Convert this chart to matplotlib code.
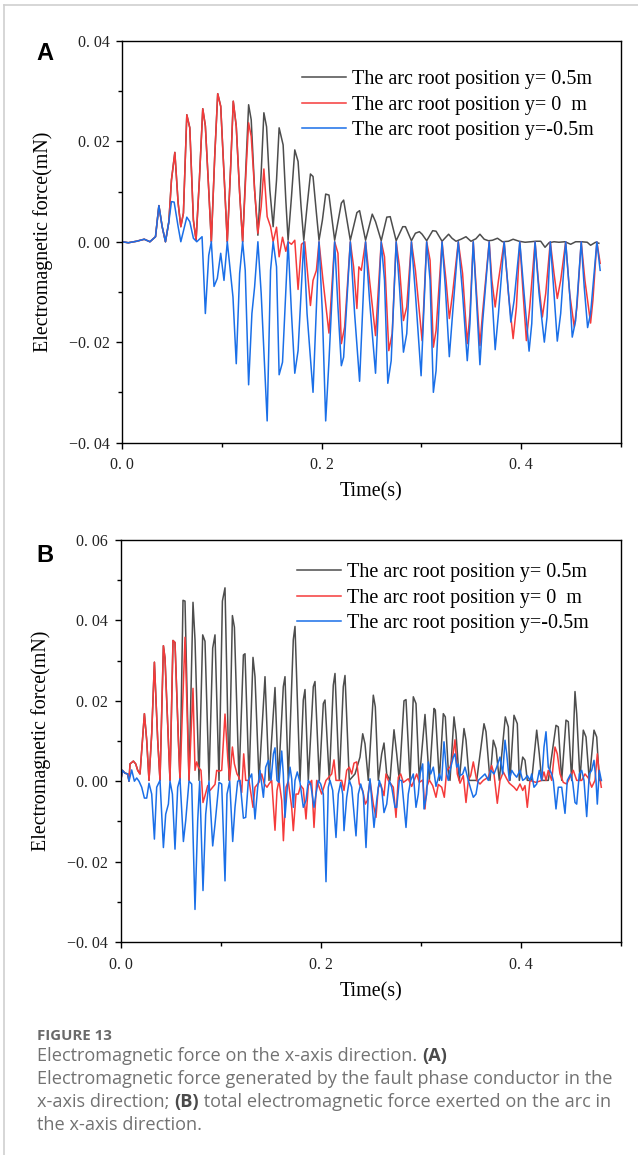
import matplotlib
matplotlib.use('Agg')
import matplotlib.pyplot as plt
from matplotlib.lines import Line2D
import numpy as np

W, H = 638, 1155

# ---------------- panel A : force from the fault phase conductor ----------------
# (time s, force mN)
a_common = [(0.0, 0.0), (0.006, -0.0002), (0.0143, 0.0001), (0.022, 0.0005), (0.0277, 0.0),
            (0.0333, 0.001), (0.0367, 0.0072), (0.04, 0.003), (0.0433, 0.0), (0.0467, 0.004)]

# red and black lie on top of each other up to ~0.12 s
a_red_black = [(0.0493, 0.0123), (0.0527, 0.0178), (0.056, 0.0077), (0.0587, 0.003), (0.0613, 0.0057),
               (0.0647, 0.0253), (0.0677, 0.0227), (0.0713, 0.0043), (0.074, 0.0003), (0.0773, 0.0123),
               (0.0807, 0.0265), (0.0833, 0.0231), (0.0867, 0.0103), (0.0893, 0.0), (0.0927, 0.017),
               (0.0957, 0.0295), (0.0987, 0.027), (0.102, 0.0137), (0.1053, 0.0), (0.1087, 0.015),
               (0.1113, 0.028), (0.1143, 0.023), (0.1177, 0.0097), (0.1207, 0.0)]

a_black = [(0.124, 0.015), (0.1267, 0.0273), (0.1293, 0.0243), (0.1327, 0.0103), (0.136, 0.0013),
           (0.1393, 0.0137), (0.142, 0.0257), (0.1447, 0.0229), (0.148, 0.0103), (0.1513, 0.003),
           (0.1547, 0.0123), (0.1573, 0.0227), (0.1613, 0.0193), (0.164, 0.0083), (0.1663, 0.0003),
           (0.1697, 0.009), (0.173, 0.0183), (0.1763, 0.016), (0.1793, 0.007), (0.182, 0.0003),
           (0.1853, 0.007), (0.1887, 0.0135), (0.1913, 0.013), (0.1947, 0.0057), (0.1973, 0.0003),
           (0.2007, 0.0043), (0.204, 0.0095), (0.2073, 0.0093), (0.213, 0.0003), (0.2197, 0.0077),
           (0.222, 0.0083), (0.2287, 0.0003), (0.2353, 0.0058), (0.238, 0.0062), (0.244, 0.0003),
           (0.2507, 0.0055), (0.254, 0.004), (0.2597, 0.0002), (0.2653, 0.0049), (0.2687, 0.005),
           (0.2747, 0.0002), (0.2813, 0.003), (0.284, 0.003), (0.29, 0.0002), (0.294, 0.0017),
           (0.298, 0.002), (0.3007, 0.0015), (0.3053, 0.0002), (0.3113, 0.0022), (0.3147, 0.0021),
           (0.3207, 0.0001), (0.3273, 0.0015), (0.3307, 0.0007), (0.3347, 0.0001), (0.3397, 0.0005),
           (0.3447, 0.001), (0.3497, 0.0001), (0.3547, 0.0006), (0.3587, 0.0015), (0.363, 0.0005),
           (0.3673, 0.0002), (0.3713, 0.0003), (0.3763, 0.0007), (0.3813, 0.0), (0.3873, 0.0001),
           (0.392, 0.0005), (0.398, 0.0001), (0.404, -0.0001), (0.4097, 0.0), (0.4147, 0.0001),
           (0.4197, 0.0001), (0.424, -0.0011), (0.428, -0.0002), (0.433, 0.0), (0.438, -0.0001),
           (0.444, 0.0), (0.4497, -0.0005), (0.4547, 0.0), (0.4607, 0.0), (0.4663, -0.0001),
           (0.4697, -0.0007), (0.4747, -0.0001), (0.478, -0.0003)]

a_red = [(0.124, 0.0137), (0.1267, 0.0237), (0.1293, 0.021), (0.1327, 0.0103), (0.136, 0.0017),
         (0.1393, 0.007), (0.142, 0.0145), (0.1453, 0.005), (0.1487, 0.003), (0.1513, 0.0),
         (0.1547, 0.0029), (0.1573, -0.003), (0.1607, 0.0009), (0.164, -0.0019), (0.1663, 0.0),
         (0.1697, -0.0005), (0.173, 0.0003), (0.1763, -0.0095), (0.1797, -0.0005), (0.183, 0.0),
         (0.1887, -0.0127), (0.1913, -0.0077), (0.1947, -0.0057), (0.1973, 0.0), (0.2013, -0.0077),
         (0.2073, -0.0182), (0.213, 0.0), (0.2163, -0.0023), (0.2197, -0.0203), (0.223, -0.017),
         (0.2287, 0.0), (0.232, -0.005), (0.2353, -0.0133), (0.2373, -0.005), (0.2397, -0.0057),
         (0.244, 0.0), (0.248, -0.0077), (0.254, -0.0187), (0.2597, 0.0), (0.263, -0.003),
         (0.2673, -0.0217), (0.2707, -0.0183), (0.2747, 0.0), (0.278, -0.005), (0.282, -0.0157),
         (0.2853, -0.013), (0.29, 0.0), (0.294, -0.0057), (0.3007, -0.0197), (0.3053, 0.0),
         (0.3087, -0.0037), (0.312, -0.021), (0.3147, -0.0177), (0.3207, 0.0), (0.3247, -0.0077),
         (0.328, -0.0153), (0.3313, -0.0103), (0.337, 0.0), (0.3413, -0.0063), (0.346, -0.0203),
         (0.3487, -0.0143), (0.352, 0.0), (0.3553, -0.0103), (0.3587, -0.0207), (0.3613, -0.0143),
         (0.368, 0.0), (0.3707, -0.0077), (0.374, -0.013), (0.3773, -0.0077), (0.383, 0.0),
         (0.3873, -0.0103), (0.392, -0.0193), (0.3953, -0.013), (0.3987, 0.0), (0.402, -0.0103),
         (0.4053, -0.0197), (0.4087, -0.013), (0.414, 0.0), (0.4173, -0.0077), (0.4213, -0.015),
         (0.4247, -0.0103), (0.4293, 0.0), (0.433, -0.0063), (0.4363, -0.0113), (0.4397, -0.0077),
         (0.4447, 0.0), (0.4487, -0.0103), (0.4533, -0.017), (0.456, -0.013), (0.4603, 0.0),
         (0.464, -0.0077), (0.4697, -0.0162), (0.472, -0.0117), (0.476, 0.0), (0.4793, -0.0043)]

a_blue = [(0.0493, 0.008), (0.052, 0.0079), (0.056, 0.003), (0.0587, 0.0), (0.0647, 0.0049),
          (0.0677, 0.004), (0.0713, 0.0007), (0.0747, 0.0), (0.08, 0.001), (0.0833, -0.0143),
          (0.0867, -0.0027), (0.0893, 0.0), (0.092, -0.0089), (0.0953, -0.0073), (0.0987, -0.0023),
          (0.102, -0.0077), (0.1053, 0.0), (0.111, -0.011), (0.1143, -0.0243), (0.1177, -0.0063),
          (0.1207, 0.0), (0.1233, -0.0057), (0.1267, -0.0285), (0.13, -0.0143), (0.1327, -0.009),
          (0.136, 0.0), (0.1393, -0.0103), (0.1453, -0.0357), (0.1487, -0.0057), (0.1513, 0.0),
          (0.1547, -0.005), (0.1573, -0.0265), (0.1607, -0.024), (0.1663, 0.0), (0.1697, -0.0143),
          (0.173, -0.0262), (0.1763, -0.0217), (0.182, 0.0), (0.1853, -0.0143), (0.1913, -0.03),
          (0.1973, 0.0), (0.2007, -0.0143), (0.204, -0.0357), (0.2073, -0.0237), (0.213, 0.0),
          (0.2163, -0.013), (0.2197, -0.0247), (0.222, -0.023), (0.2287, 0.0), (0.233, -0.0143),
          (0.238, -0.0278), (0.244, 0.0), (0.248, -0.0117), (0.254, -0.0262), (0.2597, 0.0),
          (0.263, -0.0077), (0.2663, -0.0282), (0.2697, -0.0237), (0.2747, 0.0), (0.278, -0.009),
          (0.282, -0.022), (0.2853, -0.0183), (0.29, 0.0), (0.294, -0.0103), (0.2997, -0.0267),
          (0.3053, 0.0), (0.3087, -0.0077), (0.312, -0.03), (0.3147, -0.0257), (0.3207, 0.0),
          (0.324, -0.009), (0.328, -0.0229), (0.3313, -0.0143), (0.337, 0.0), (0.3413, -0.0103),
          (0.346, -0.0237), (0.3487, -0.0163), (0.352, 0.0), (0.3553, -0.0117), (0.3587, -0.0245),
          (0.3613, -0.0163), (0.368, 0.0), (0.3707, -0.0103), (0.374, -0.0215), (0.3773, -0.0143),
          (0.383, 0.0), (0.3863, -0.0077), (0.3897, -0.016), (0.393, -0.0117), (0.3987, 0.0),
          (0.403, -0.0103), (0.408, -0.0218), (0.4107, -0.0163), (0.414, 0.0), (0.418, -0.0103),
          (0.4233, -0.02), (0.426, -0.015), (0.4293, 0.0), (0.433, -0.0103), (0.4363, -0.0198),
          (0.4397, -0.0143), (0.4447, 0.0), (0.4487, -0.0103), (0.4513, -0.019), (0.4547, -0.0157),
          (0.4603, 0.0), (0.4633, -0.009), (0.4667, -0.0171), (0.4697, -0.0143), (0.476, 0.0),
          (0.4793, -0.0057)]

# ---------------- panel B : total force on the arc ----------------
b_common = [(0.0, 0.0), (0.0017, 0.0027), (0.0043, 0.002), (0.007, 0.0018), (0.0083, 0.0)]

b_red_black = [(0.0093, 0.0043), (0.0127, 0.005), (0.015, 0.0043), (0.017, 0.0027), (0.0193, 0.0018),
               (0.0237, 0.0168), (0.026, 0.0102), (0.0283, 0.0002), (0.031, 0.0118), (0.0337, 0.0296),
               (0.037, 0.0102), (0.0393, 0.0002), (0.0427, 0.0337), (0.0443, 0.0306), (0.0477, 0.0102),
               (0.0493, 0.0002), (0.0523, 0.035), (0.0543, 0.0345), (0.0577, 0.0102), (0.0593, 0.0002)]

b_black = [(0.0623, 0.045), (0.0643, 0.0448), (0.0683, 0.0002), (0.0723, 0.0445), (0.0743, 0.0352),
           (0.0783, 0.0002), (0.082, 0.0364), (0.0843, 0.0348), (0.0883, 0.0002), (0.092, 0.0331),
           (0.0943, 0.0364), (0.0983, 0.0002), (0.1017, 0.0448), (0.1043, 0.0481), (0.1083, 0.0002),
           (0.1117, 0.0412), (0.1137, 0.0383), (0.1183, 0.0002), (0.1227, 0.0314), (0.1243, 0.0317),
           (0.1283, 0.0002), (0.1323, 0.0308), (0.1343, 0.026), (0.1383, 0.0002), (0.1443, 0.026),
           (0.1483, 0.0002), (0.1543, 0.0233), (0.1577, 0.0002), (0.1626, 0.0235), (0.1643, 0.026),
           (0.1676, 0.0002), (0.1726, 0.0352), (0.1743, 0.0385), (0.1793, 0.0), (0.1826, 0.0202),
           (0.1843, 0.0228), (0.1876, 0.0002), (0.1926, 0.0235), (0.1943, 0.0248), (0.1986, 0.0002),
           (0.2026, 0.0193), (0.2043, 0.0202), (0.2086, 0.0002), (0.2126, 0.0239), (0.2143, 0.0268),
           (0.2186, 0.0002), (0.2226, 0.0235), (0.2243, 0.0263), (0.2286, 0.0002), (0.2343, 0.0018),
           (0.2393, 0.006), (0.242, 0.0118), (0.2443, 0.0093), (0.2476, 0.0002), (0.2526, 0.0214),
           (0.2546, 0.0185), (0.2576, 0.0002), (0.261, 0.0068), (0.2633, 0.0095), (0.266, 0.0018),
           (0.2693, 0.0002), (0.2733, 0.0128), (0.276, 0.0068), (0.2786, 0.0002), (0.2833, 0.02),
           (0.2853, 0.0203), (0.2893, 0.0002), (0.2926, 0.021), (0.2953, 0.0193), (0.2986, 0.0002),
           (0.3043, 0.0166), (0.306, 0.0102), (0.3086, 0.0002), (0.3133, 0.0181), (0.3146, 0.0177),
           (0.3186, 0.0002), (0.3226, 0.0168), (0.3246, 0.016), (0.3276, 0.0027), (0.3293, 0.0002),
           (0.3333, 0.016), (0.3353, 0.0118), (0.3386, 0.0002), (0.3433, 0.0131), (0.3453, 0.0102),
           (0.3486, 0.0002), (0.356, 0.0002), (0.3633, 0.0143), (0.3653, 0.0123), (0.3693, 0.0002),
           (0.3726, 0.0102), (0.3753, 0.0081), (0.3786, 0.0002), (0.3846, 0.016), (0.3876, 0.0135),
           (0.3893, 0.0002), (0.3933, 0.0164), (0.3966, 0.0143), (0.3986, 0.0002), (0.402, 0.006),
           (0.4043, 0.0052), (0.4066, 0.0002), (0.411, 0.0002), (0.416, 0.0127), (0.4186, 0.0068),
           (0.421, 0.0002), (0.4276, 0.0002), (0.4353, 0.0139), (0.4376, 0.0135), (0.441, 0.0002),
           (0.4453, 0.0152), (0.4476, 0.0148), (0.451, 0.0002), (0.4543, 0.0223), (0.456, 0.0168),
           (0.4593, 0.0002), (0.4626, 0.0127), (0.4653, 0.011), (0.4686, 0.0002), (0.4733, 0.0127),
           (0.476, 0.011), (0.4786, 0.0002), (0.4806, 0.0002)]

b_red = [(0.0643, 0.0358), (0.0683, 0.0002), (0.0723, 0.0231), (0.0743, 0.0027), (0.076, 0.0048),
         (0.0777, 0.0035), (0.0803, 0.0027), (0.0823, -0.0053), (0.0843, -0.0036), (0.087, -0.0011),
         (0.0893, -0.0023), (0.092, -0.0015), (0.0943, -0.0008), (0.096, 0.0027), (0.0983, 0.0025),
         (0.101, 0.0027), (0.1043, 0.0167), (0.107, 0.006), (0.109, 0.0002), (0.1117, 0.0085),
         (0.1137, 0.0043), (0.1163, 0.0018), (0.1183, 0.001), (0.121, -0.0028), (0.123, 0.0068),
         (0.125, 0.0002), (0.1283, 0.0002), (0.1323, -0.0065), (0.1343, -0.0015), (0.1383, -0.0003),
         (0.141, 0.0018), (0.1437, -0.0007), (0.1463, -0.0015), (0.1483, -0.0007), (0.151, 0.0002),
         (0.1543, -0.0122), (0.1563, -0.0023), (0.1583, 0.0002), (0.161, -0.0048), (0.1627, -0.0148),
         (0.1653, -0.0015), (0.1676, 0.0), (0.171, -0.0065), (0.1726, -0.0123), (0.1753, -0.0032),
         (0.1776, -0.0032), (0.18, -0.0011), (0.1826, -0.0019), (0.1853, -0.0094), (0.1876, -0.0011),
         (0.191, 0.0002), (0.1933, -0.0115), (0.196, 0.0002), (0.201, -0.0032), (0.2053, 0.0002),
         (0.211, 0.0018), (0.2133, 0.0053), (0.2153, 0.0002), (0.221, 0.0002), (0.2233, -0.0023),
         (0.226, 0.0027), (0.2286, 0.0035), (0.231, 0.0018), (0.2333, 0.0045), (0.236, 0.0048),
         (0.2386, -0.0007), (0.242, -0.0023), (0.2446, -0.0057), (0.2466, -0.0048), (0.2493, 0.0002),
         (0.2526, -0.0057), (0.2553, -0.009), (0.2576, -0.0015), (0.26, -0.0007), (0.2633, -0.0036),
         (0.2653, 0.0018), (0.2676, 0.0002), (0.2726, -0.0015), (0.2753, -0.009), (0.2776, 0.001),
         (0.28, 0.0018), (0.2826, -0.0003), (0.2876, 0.0006), (0.291, -0.0013), (0.296, 0.0018),
         (0.2986, -0.0003), (0.302, 0.0003), (0.3043, -0.0069), (0.306, -0.0015), (0.3086, 0.0003),
         (0.312, -0.0011), (0.3153, -0.004), (0.3176, -0.0008), (0.321, -0.0015), (0.3236, -0.004),
         (0.326, 0.0027), (0.3293, 0.0035), (0.332, 0.006), (0.3343, 0.0103), (0.3366, 0.0018),
         (0.3393, -0.0005), (0.3426, 0.0014), (0.3453, -0.0053), (0.3476, 0.0002), (0.35, 0.0014),
         (0.3526, 0.0048), (0.356, 0.0002), (0.3593, -0.0007), (0.3626, 0.0002), (0.3676, 0.001),
         (0.371, 0.0039), (0.3733, 0.0018), (0.3766, -0.0055), (0.3793, 0.0002), (0.3826, 0.0023),
         (0.386, 0.0006), (0.3886, -0.0005), (0.3933, -0.0015), (0.396, -0.0023), (0.3993, -0.0007),
         (0.402, -0.0023), (0.4043, -0.0011), (0.4066, -0.0065), (0.4093, 0.0002), (0.4153, -0.0003),
         (0.421, 0.0002), (0.4233, 0.0023), (0.4253, 0.0002), (0.4276, 0.0027), (0.431, 0.0002),
         (0.4343, 0.0085), (0.4366, 0.0068), (0.4393, 0.0018), (0.4426, -0.0003), (0.446, -0.0007),
         (0.4493, 0.001), (0.4526, 0.0027), (0.456, 0.0002), (0.461, 0.0002), (0.4643, 0.0018),
         (0.4676, 0.0008), (0.471, -0.0015), (0.4743, 0.0002), (0.4766, 0.0068), (0.4786, 0.0018),
         (0.4806, -0.0015)]

b_blue = [(0.011, 0.0028), (0.0137, 0.0), (0.016, 0.0008), (0.0183, 0.0), (0.021, -0.0015),
          (0.0237, -0.0042), (0.026, -0.0042), (0.0283, -0.0005), (0.031, -0.0032), (0.0337, -0.0144),
          (0.036, -0.0015), (0.0393, 0.0002), (0.0427, -0.0165), (0.045, -0.0082), (0.0477, -0.0057),
          (0.0493, 0.0), (0.0517, -0.0032), (0.0543, -0.0169), (0.057, -0.0015), (0.0593, 0.0006),
          (0.0627, -0.015), (0.065, -0.0098), (0.0683, 0.0), (0.071, -0.0007), (0.0743, -0.0319),
          (0.077, -0.0098), (0.079, 0.0), (0.0823, -0.0272), (0.085, -0.0082), (0.0883, 0.0),
          (0.092, -0.0161), (0.0943, -0.0107), (0.0983, -0.0003), (0.101, -0.0007), (0.1043, -0.0248),
          (0.1063, -0.0032), (0.109, 0.0), (0.112, -0.015), (0.1143, -0.0065), (0.117, 0.0),
          (0.1193, 0.0002), (0.1227, -0.0092), (0.125, -0.009), (0.1277, 0.0002), (0.131, 0.0018),
          (0.1343, -0.0094), (0.137, -0.0015), (0.1393, 0.0027), (0.1427, -0.004), (0.145, 0.0035),
          (0.1477, 0.0052), (0.1503, 0.0002), (0.1527, 0.0068), (0.1543, 0.0083), (0.1563, 0.0002),
          (0.1583, -0.0003), (0.161, 0.0075), (0.1626, 0.0018), (0.1643, -0.009), (0.1666, -0.0015),
          (0.1693, 0.0035), (0.171, 0.0006), (0.1726, -0.0065), (0.1743, 0.0002), (0.1766, 0.0023),
          (0.1793, -0.0003), (0.1826, -0.0065), (0.1853, -0.0048), (0.1876, 0.0002), (0.19, -0.0007),
          (0.1933, -0.0065), (0.1953, -0.0032), (0.1976, 0.0002), (0.2, -0.0007), (0.2026, -0.0032),
          (0.2053, -0.025), (0.2076, -0.0015), (0.2093, 0.0002), (0.212, -0.0023), (0.2153, -0.014),
          (0.2176, -0.0032), (0.22, -0.0003), (0.222, -0.0032), (0.2233, -0.0123), (0.226, -0.004),
          (0.2286, 0.0002), (0.231, -0.0015), (0.2353, -0.0136), (0.2376, -0.0032), (0.24, -0.0007),
          (0.2426, -0.0032), (0.2453, -0.0165), (0.2476, -0.0032), (0.2493, 0.0006), (0.2533, -0.0115),
          (0.256, -0.0048), (0.2586, 0.0002), (0.261, -0.0019), (0.2633, -0.0078), (0.266, -0.0057),
          (0.2686, 0.0002), (0.271, -0.0015), (0.2743, -0.0065), (0.276, -0.0065), (0.2786, 0.0002),
          (0.281, 0.0002), (0.2853, -0.0115), (0.2876, -0.0032), (0.29, 0.0002), (0.2926, 0.0018),
          (0.2953, -0.0065), (0.2976, -0.0032), (0.2993, 0.0018), (0.302, 0.0043), (0.3033, -0.0069),
          (0.306, -0.0032), (0.3076, 0.0048), (0.31, 0.0018), (0.3126, 0.0035), (0.3153, -0.0013),
          (0.3186, 0.0018), (0.321, 0.0002), (0.3233, 0.0098), (0.326, 0.0018), (0.3276, 0.0002),
          (0.3293, 0.0027), (0.3326, 0.006), (0.3343, 0.0068), (0.336, 0.0035), (0.3376, 0.0043),
          (0.3393, 0.0014), (0.342, 0.0018), (0.3443, 0.0035), (0.3476, 0.0002), (0.35, -0.0019),
          (0.3526, -0.004), (0.3553, -0.0032), (0.3576, 0.0002), (0.361, 0.001), (0.3643, 0.0018),
          (0.3676, 0.0002), (0.37, 0.0027), (0.3733, 0.0018), (0.376, 0.0035), (0.3793, 0.006),
          (0.382, 0.0018), (0.3843, 0.0102), (0.386, 0.0068), (0.3886, 0.0002), (0.391, 0.0027),
          (0.3933, 0.0018), (0.396, 0.001), (0.3993, 0.0027), (0.402, 0.0002), (0.4043, 0.0006),
          (0.4066, 0.0014), (0.4093, 0.0002), (0.411, 0.0018), (0.4133, -0.0015), (0.416, -0.0007),
          (0.4186, 0.0027), (0.421, 0.0002), (0.4233, 0.0085), (0.4253, 0.0123), (0.4276, 0.0035),
          (0.431, 0.0018), (0.4326, 0.0002), (0.4353, -0.0069), (0.4376, -0.0015), (0.441, -0.0015),
          (0.4443, -0.008), (0.4466, 0.0002), (0.45, 0.0018), (0.452, -0.0003), (0.4543, -0.0053),
          (0.456, -0.0057), (0.4586, 0.0018), (0.461, 0.0027), (0.4633, 0.0002), (0.466, -0.0088),
          (0.4686, 0.0018), (0.471, 0.0027), (0.4733, 0.0052), (0.4753, 0.0002), (0.4766, -0.0057),
          (0.4786, 0.0027), (0.4806, 0.0002)]

labels = ['The arc root position y= 0.5m', 'The arc root position y= 0  m', 'The arc root position y=-0.5m']
colors = ['#4d4d4d', '#f53a3a', '#1a6fe8']

a_yticks = [0.04, 0.02, 0.0, -0.02, -0.04]
a_ylabels = ['0. 04', '0. 02', '0. 00', '\u22120. 02', '\u22120. 04']
b_yticks = [0.06, 0.04, 0.02, 0.0, -0.02, -0.04]
b_ylabels = ['0. 06', '0. 04', '0. 02', '0. 00', '\u22120. 02', '\u22120. 04']
xticks = [0.0, 0.2, 0.4]
xlabels = ['0. 0', '0. 2', '0. 4']


def fx(x):
    return x / W


def fy(y):
    return 1 - y / H


def series(*parts):
    pts = np.array([p for part in parts for p in part])
    return pts[:, 0], pts[:, 1]


SERIF = 'Liberation Serif'

fig = plt.figure(figsize=(W / 100, H / 100), dpi=100)

# light frame of the figure page
fig.add_artist(Line2D([fx(4), fx(4)], [0, fy(5)], color='#cfcfcf', lw=1.2, transform=fig.transFigure))
fig.add_artist(Line2D([fx(4), 1], [fy(5), fy(5)], color='#cfcfcf', lw=1.2, transform=fig.transFigure))


def make_panel(rect, curves, yticks, ylabels, ylim, yminor, leg_xy, letter, letter_y):
    ax = fig.add_axes(rect)
    for (t, v), c, lab in zip(curves, colors, labels):
        ax.plot(t, v, color=c, lw=1.1, label=lab)
    ax.set_xlim(0, 0.5)
    ax.set_ylim(*ylim)
    ax.set_xticks(xticks, xlabels)
    ax.set_xticks([0.1, 0.3, 0.5], minor=True)
    ax.set_yticks(yticks, ylabels)
    ax.set_yticks(yminor, minor=True)
    ax.tick_params(which='major', direction='out', length=4.5, width=1.0, labelsize=11.5)
    ax.tick_params(which='minor', direction='out', length=2.8, width=1.0)
    ax.tick_params(axis='x', which='major', pad=6)
    ax.tick_params(axis='y', which='major', pad=4.5)
    for lbl in ax.get_xticklabels() + ax.get_yticklabels():
        lbl.set_fontfamily(SERIF)
        lbl.set_color('#222222')
    for sp in ax.spines.values():
        sp.set_linewidth(1.0)
    ax.set_xlabel('Time(s)', fontsize=14.4, family=SERIF, va='top')
    ax.xaxis.set_label_coords(0.5, -0.1)
    ax.set_ylabel('Electromagnetic force(mN)', fontsize=14.4, family=SERIF)
    ax.yaxis.set_label_coords(-0.14, 0.5)
    ax.legend(loc='upper left', bbox_to_anchor=(fx(leg_xy[0]), fy(leg_xy[1])),
              bbox_transform=fig.transFigure, frameon=False, borderpad=0, borderaxespad=0,
              handlelength=2.2, handletextpad=0.3, labelspacing=0.32,
              prop={'family': SERIF, 'size': 14.5})
    fig.text(fx(36), fy(letter_y), letter, fontsize=17, fontweight='bold',
             family='Liberation Sans', va='baseline', ha='left')
    return ax


curves_a = [series(a_common, a_red_black, a_black),
            series(a_common, a_red_black, a_red),
            series(a_common, a_blue)]
make_panel([fx(122.3), fy(442.5), 498.5 / W, 401.5 / H], curves_a, a_yticks, a_ylabels,
           (-0.04, 0.04), [0.03, 0.01, -0.01, -0.03], (302, 70), 'A', 60)

curves_b = [series(b_common, b_red_black, b_black),
            series(b_common, b_red_black, b_red),
            series(b_common, b_blue)]
make_panel([fx(120.7), fy(942), 500 / W, 402 / H], curves_b, b_yticks, b_ylabels,
           (-0.04, 0.06), [0.05, 0.03, 0.01, -0.01, -0.03], (297, 563), 'B', 562)

# ---------------- caption ----------------
CAP = 'Open Sans'
fig.text(fx(37), fy(1040), 'FIGURE 13', fontsize=10.8, fontweight='bold', family=CAP,
         color='#6a6a6a', va='baseline')

renderer = fig.canvas.get_renderer()


def caption_line(y, parts):
    x = 37
    for txt, bold in parts:
        t = fig.text(fx(x), fy(y), txt, fontsize=13.1, family=CAP, va='baseline',
                     fontweight='bold' if bold else 'normal',
                     color='#4a4a4a' if bold else '#727272')
        x += t.get_window_extent(renderer=renderer).width


caption_line(1061, [('Electromagnetic force on the x-axis direction. ', False), ('(A)', True)])
caption_line(1084, [('Electromagnetic force generated by the fault phase conductor in the', False)])
caption_line(1107, [('x-axis direction; ', False), ('(B)', True),
                    (' total electromagnetic force exerted on the arc in', False)])
caption_line(1130, [('the x-axis direction.', False)])

fig.savefig('out.png', dpi=100)
